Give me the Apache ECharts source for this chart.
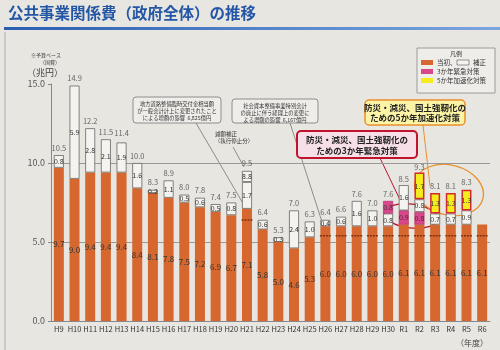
<!DOCTYPE html>
<html>
<head>
<meta charset="utf-8">
<script src="https://cdn.jsdelivr.net/npm/echarts@6/dist/echarts.min.js"></script>
<style>
  html, body { margin: 0; padding: 0; background: #e8e6e1; }
  #chart { width: 500px; height: 350px; }
</style>
</head>
<body>
<div id="chart"></div>
<script>
// 年度
var years = ['H9', 'H10', 'H11', 'H12', 'H13', 'H14', 'H15', 'H16', 'H17', 'H18', 'H19', 'H20', 'H21', 'H22',
    'H23', 'H24', 'H25', 'H26', 'H27', 'H28', 'H29', 'H30', 'R1', 'R2', 'R3', 'R4', 'R5', 'R6'];
// 当初
var initial = [9.7, 9.0, 9.4, 9.4, 9.4, 8.4, 8.1, 7.8, 7.5, 7.2, 6.9, 6.7, 7.1, 5.8,
    5.0, 4.6, 5.3, 6.0, 6.0, 6.0, 6.0, 6.0, 6.1, 6.1, 6.1, 6.1, 6.1, 6.1];
// 補正（緊急対策の下に積む分）
var supplement = [0.8, 5.9, 2.8, 2.1, 1.9, 1.6, 0.2, 1.1, 0.5, 0.6, 0.5, 0.8, 1.7, 0.6,
    0.3, 2.4, 1.0, 0.4, 0.6, 1.6, 1.0, 0.8, null, null, 0.7, 0.7, 0.9, null];
// 3か年緊急対策
var emergency = [null, null, null, null, null, null, null, null, null, null, null, null, null, null,
    null, null, null, null, null, null, null, 0.8, 0.9, 0.8, null, null, null, null];
// 補正（緊急対策の上に積む分）
var supplementUpper = [null, null, null, null, null, null, null, null, null, null, null, null, null, null,
    null, null, null, null, null, null, null, null, 1.6, 0.8, null, null, null, null];
// 5か年加速化対策
var acceleration = [null, null, null, null, null, null, null, null, null, null, null, null, null, null,
    null, null, null, null, null, null, null, null, null, 1.7, 1.3, 1.3, 1.3, null];
// 減額補正（執行停止分）
var reduction = [null, null, null, null, null, null, null, null, null, null, null, null, 0.7, null,
    null, null, null, null, null, null, null, null, null, null, null, null, null, null];
// 合計
var totals = [10.5, 14.9, 12.2, 11.5, 11.4, 10.0, 8.3, 8.9, 8.0, 7.8, 7.4, 7.5, 9.5, 6.4,
    5.3, 7.0, 6.3, 6.4, 6.6, 7.6, 7.0, 7.6, 8.5, 9.3, 8.1, 8.1, 8.3, null];
// 点線（変更前ベース）
var oldBase = [null, null, null, null, null, null, null, null, null, null, null, null, 6.4, null,
    null, null, null, 5.4, 5.4, 5.4, 5.4, 5.4, 5.4, 5.4, 5.4, 5.4, 5.4, 5.4];

var FONT = '"Noto Sans CJK JP", "Noto Sans", sans-serif';
var ORANGE = '#d6682f';
var PINK = '#d8478a';
var YELLOW = '#f4ec1c';

function fmt(v) {
    return (v == null) ? '' : Number(v).toFixed(1);
}

function segLabel(size) {
    return {
        show: true,
        position: 'inside',
        fontSize: size || 7,
        fontFamily: FONT,
        color: '#333',
        formatter: function (p) { return fmt(p.value); }
    };
}

var chart = echarts.init(document.getElementById('chart'));

var option = {
    backgroundColor: '#e8e6e1',
    textStyle: { fontFamily: FONT },
    animation: false,
    grid: { left: 51, right: 10, top: 84, bottom: 29 },
    xAxis: {
        type: 'category',
        data: years,
        axisLine: { lineStyle: { color: '#888' } },
        axisTick: { show: false },
        axisLabel: { interval: 0, fontSize: 7.5, color: '#333', margin: 4, fontFamily: FONT }
    },
    yAxis: {
        type: 'value',
        min: 0,
        max: 15,
        interval: 5,
        axisLine: { show: true, lineStyle: { color: '#888' } },
        axisTick: { show: true, length: 3, lineStyle: { color: '#888' } },
        axisLabel: { fontSize: 9, color: '#555', margin: 6, formatter: function (v) { return v.toFixed(1); } },
        splitLine: { show: true, showMaxLine: false, lineStyle: { color: '#999', width: 1 } }
    },
    series: [
        {
            name: '当初', type: 'bar', stack: 'total', barWidth: 10,
            data: initial,
            itemStyle: { color: ORANGE },
            label: segLabel(8)
        },
        {
            name: '補正', type: 'bar', stack: 'total',
            data: supplement,
            itemStyle: { color: '#f4f3ef', borderColor: '#666', borderWidth: 0.8 },
            label: segLabel(7)
        },
        {
            name: '3か年緊急対策', type: 'bar', stack: 'total',
            data: emergency,
            itemStyle: { color: PINK, borderColor: '#b02a60', borderWidth: 0.6 },
            label: segLabel(7)
        },
        {
            name: '補正（上）', type: 'bar', stack: 'total',
            data: supplementUpper,
            itemStyle: { color: '#f4f3ef', borderColor: '#666', borderWidth: 0.8 },
            label: segLabel(7)
        },
        {
            name: '5か年加速化対策', type: 'bar', stack: 'total',
            data: acceleration,
            itemStyle: { color: YELLOW, borderColor: '#d22b2b', borderWidth: 1.5 },
            label: segLabel(7)
        },
        {
            name: '減額補正', type: 'bar', stack: 'total',
            data: reduction,
            itemStyle: { color: '#f4f3ef', borderColor: '#666', borderWidth: 0.8 },
            label: {
                show: true, position: 'inside', fontSize: 7, color: '#333',
                formatter: function (p) {
                    return fmt(initial[p.dataIndex] + supplement[p.dataIndex]);
                }
            }
        },
        {
            name: '変更前', type: 'scatter',
            data: oldBase,
            symbol: 'path://M0,0h2v1h-2z M3,0h2v1h-2z M6,0h2v1h-2z M9,0h2v1h-2z',
            symbolSize: [11, 1.5],
            itemStyle: { color: '#6a2208' },
            z: 5
        },
        {
            name: '合計', type: 'scatter',
            data: totals,
            symbolSize: 1,
            itemStyle: { color: 'rgba(0,0,0,0)' },
            label: {
                show: true, position: 'top', distance: 3, fontSize: 7.5, color: '#444',
                formatter: function (p) { return fmt(p.value); }
            },
            z: 6
        }
    ],
    graphic: [
        // タイトル
        { type: 'rect', shape: { x: 4, y: 27, width: 496, height: 3 },
          style: { fill: new echarts.graphic.LinearGradient(0, 0, 1, 0, [
              { offset: 0, color: '#2a5db0' }, { offset: 1, color: '#7aa6e0' }]) } },
        { type: 'text', left: 8, top: 5,
          style: { text: '公共事業関係費（政府全体）の推移', font: 'bold 15.5px ' + FONT, fill: '#2456a6' } },
        { type: 'line', shape: { x1: 5, y1: 32, x2: 5, y2: 350 }, style: { stroke: '#aaa', lineWidth: 1 } },
        // 単位
        { type: 'text', left: 31, top: 53, style: { text: '※予算ベース', font: '5px ' + FONT, fill: '#444' } },
        { type: 'text', left: 40, top: 60, style: { text: '（国費）', font: '5px ' + FONT, fill: '#444' } },
        { type: 'text', left: 27, top: 68, style: { text: '（兆円）', font: '9px ' + FONT, fill: '#444' } },
        { type: 'text', right: 12, bottom: 3, style: { text: '（年度）', font: '8px ' + FONT, fill: '#444' } },
        // 凡例
        { type: 'rect', shape: { x: 417, y: 48, width: 78, height: 45 },
          style: { fill: '#eeede9', stroke: '#888', lineWidth: 0.8 } },
        { type: 'text', x: 456, y: 51, style: { text: '凡例', font: '6px ' + FONT, fill: '#333', textAlign: 'center' } },
        { type: 'rect', shape: { x: 421, y: 60, width: 12, height: 5 }, style: { fill: ORANGE } },
        { type: 'text', x: 437, y: 59, style: { text: '当初、', font: '6.5px ' + FONT, fill: '#333' } },
        { type: 'rect', shape: { x: 457, y: 60, width: 12, height: 5 }, style: { fill: '#f4f3ef', stroke: '#555', lineWidth: 0.6 } },
        { type: 'text', x: 473, y: 59, style: { text: '補正', font: '6.5px ' + FONT, fill: '#333' } },
        { type: 'rect', shape: { x: 421, y: 69, width: 12, height: 5 }, style: { fill: PINK } },
        { type: 'text', x: 437, y: 68, style: { text: '3か年緊急対策', font: '6.5px ' + FONT, fill: '#333' } },
        { type: 'rect', shape: { x: 421, y: 78, width: 12, height: 5 }, style: { fill: YELLOW } },
        { type: 'text', x: 437, y: 77, style: { text: '5か年加速化対策', font: '6.5px ' + FONT, fill: '#333' } },
        // 注記1
        { type: 'rect', shape: { x: 133, y: 97, width: 88, height: 26, r: 3 },
          style: { fill: '#eeede9', stroke: '#777', lineWidth: 0.8 } },
        { type: 'text', x: 177, y: 100, style: { text: '地方道路整備臨時交付金相当額\nが一般会計計上に変更されたこと\nによる増額の影響  6,825億円',
          font: '5.3px ' + FONT, fill: '#333', textAlign: 'center', lineHeight: 7 } },
        { type: 'line', shape: { x1: 196, y1: 123, x2: 248, y2: 212 }, style: { stroke: '#666', lineWidth: 0.7 } },
        // 注記2
        { type: 'rect', shape: { x: 232, y: 99, width: 86, height: 24, r: 3 },
          style: { fill: '#eeede9', stroke: '#777', lineWidth: 0.8 } },
        { type: 'text', x: 275, y: 102, style: { text: '社会資本整備事業特別会計\nの廃止に伴う経理上の変更に\nよる増額の影響  6,167億円',
          font: '5.3px ' + FONT, fill: '#333', textAlign: 'center', lineHeight: 7 } },
        { type: 'line', shape: { x1: 290, y1: 123, x2: 324, y2: 228 }, style: { stroke: '#666', lineWidth: 0.7 } },
        // 減額補正
        { type: 'text', x: 226, y: 131, style: { text: '減額補正', font: '5.5px ' + FONT, fill: '#333', textAlign: 'center' } },
        { type: 'text', x: 234, y: 138, style: { text: '（執行停止分）', font: '5.5px ' + FONT, fill: '#333', textAlign: 'center' } },
        { type: 'line', shape: { x1: 233, y1: 147, x2: 244, y2: 167 }, style: { stroke: '#666', lineWidth: 0.7 } },
        // 3か年緊急対策
        { type: 'rect', shape: { x: 297, y: 131, width: 120, height: 27, r: 4 },
          style: { fill: '#f6dfe6', stroke: '#c0142e', lineWidth: 2 } },
        { type: 'text', x: 357, y: 134, style: { text: '防災・減災、国土強靭化の\nための3か年緊急対策',
          font: 'bold 8.5px ' + FONT, fill: '#222', textAlign: 'center', lineHeight: 11 } },
        { type: 'line', shape: { x1: 380, y1: 158, x2: 402, y2: 204 }, style: { stroke: '#c0142e', lineWidth: 1 } },
        { type: 'ellipse', shape: { cx: 411, cy: 216, rx: 27, ry: 12 }, rotation: -0.12, originX: 411, originY: 216,
          style: { fill: 'none', stroke: '#c0142e', lineWidth: 1.3 } },
        // 5か年加速化対策
        { type: 'rect', shape: { x: 365, y: 100, width: 100, height: 25, r: 4 },
          style: { fill: '#fbf4a6', stroke: '#e8902c', lineWidth: 1.5 } },
        { type: 'text', x: 415, y: 103, style: { text: '防災・減災、国土強靭化の\nための5か年加速化対策',
          font: 'bold 8.5px ' + FONT, fill: '#222', textAlign: 'center', lineHeight: 10 } },
        { type: 'line', shape: { x1: 423, y1: 125, x2: 430, y2: 186 }, style: { stroke: '#e8902c', lineWidth: 1 } },
        { type: 'ellipse', shape: { cx: 449, cy: 190, rx: 35, ry: 25 }, rotation: -0.25, originX: 449, originY: 190,
          style: { fill: 'none', stroke: '#e8902c', lineWidth: 1.3 } }
    ]
};

chart.setOption(option);
</script>
</body>
</html>
